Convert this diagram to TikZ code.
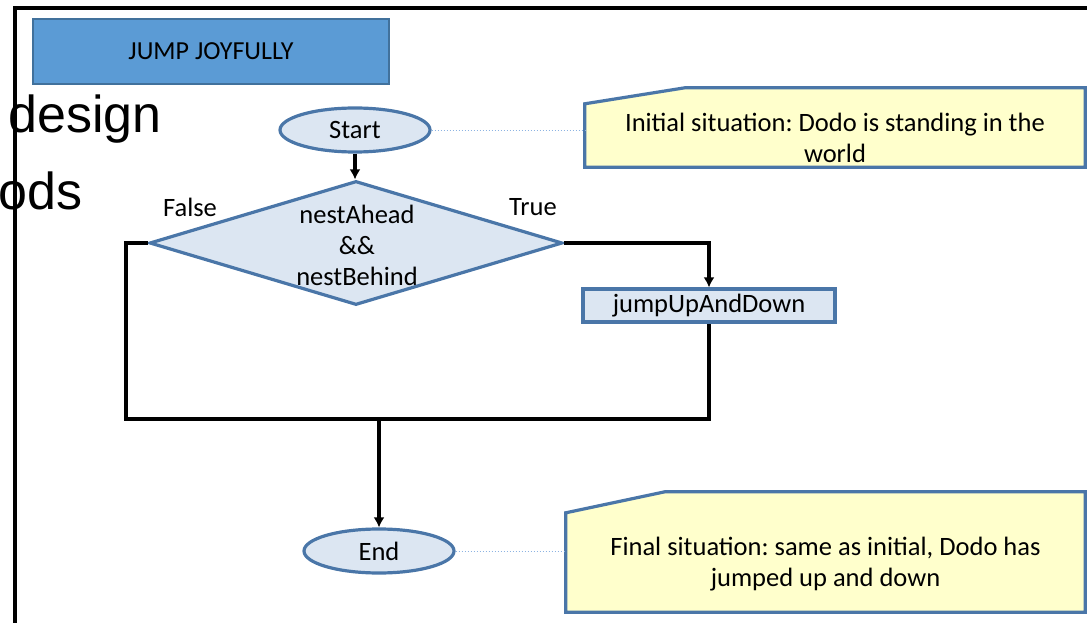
\documentclass[tikz,border=0pt]{standalone}
\usepackage{fontspec}
\setmainfont{Carlito}
\newfontfamily\arialf{Liberation Sans}
\usetikzlibrary{shapes.geometric,arrows.meta}
\frenchspacing
\definecolor{bord}{HTML}{4A76A8}
\definecolor{lightfill}{HTML}{DCE6F2}
\definecolor{titlefill}{HTML}{5B9BD5}
\definecolor{titlebord}{HTML}{41719C}
\definecolor{notefill}{HTML}{FFFFCC}
\definecolor{dotblue}{HTML}{8DB3E2}
\tikzset{
  x=1pt,y=1pt,
  txt/.style={font=\fontsize{26.5}{31}\selectfont, text=black},
  flowshape/.style={draw=bord, line width=3.2pt, fill=lightfill, inner sep=0pt},
  terminal/.style={flowshape, ellipse, minimum width=150pt, minimum height=44pt, txt},
  decision/.style={flowshape, diamond, minimum width=413pt, minimum height=124pt},
  process/.style={flowshape, rectangle, minimum width=252pt, minimum height=33pt, txt},
  notebox/.style={inner sep=0pt},
  noteshape/.style={draw=bord, line width=3.2pt, fill=notefill},
  flow/.style={draw=black, line width=3.2pt},
  flowarrow/.style={flow, -{Latex[length=10pt,width=11pt]}},
  dotline/.style={draw=dotblue, line width=0.9pt, dash pattern=on 1.5pt off 1.5pt},
  bigtxt/.style={font=\arialf\fontsize{52}{60}\selectfont, inner sep=0pt}
}
\begin{document}
\begin{tikzpicture}
\useasboundingbox (0,0) rectangle (1087,622);
\clip (0,0) rectangle (1087,622);
% frame
\draw[line width=3.2pt] (15,-20) -- (15,614) -- (1110,614);
% title
\node[draw=titlebord, line width=2.6pt, fill=titlefill, minimum width=356pt, minimum height=65pt, font=\fontsize{26}{30}\selectfont] (title) at (211,570.5) {JUMP JOYFULLY};
% background words
\node[bigtxt, anchor=base west] (design) at (8,489) {design};
\node[bigtxt, anchor=base east] (ods) at (83,412) {ods};
% flow nodes
\node[terminal] (start) at (355,492) {Start};
\node[decision] (dec) at (356,379) {};
\node[txt, align=center] (dectext) at (357,377) {nestAhead\\\&\&\\nestBehind};
\node[process] (jump) at (709,316.5) {jumpUpAndDown};
\node[terminal] (end) at (379,71) {End};
% labels
\node[txt] (false) at (190,415) {False};
\node[txt] (true) at (533,415) {True};
% notes
\node[notebox, minimum width=500pt, minimum height=63pt] (n1) at (835,486.5) {};
\path[noteshape] (n1.south west) -- (n1.north west) -- ([xshift=100pt,yshift=16pt]n1.north west) -- ([yshift=16pt]n1.north east) -- (n1.south east) -- cycle;
\node[txt, align=center] (n1text) at (835,484.5) {Initial situation: Dodo is standing in the\\world};
\node[notebox, minimum width=519pt, minimum height=99pt] (n2) at (825.5,59.5) {};
\path[noteshape] (n2.south west) -- (n2.north west) -- ([xshift=99pt,yshift=21pt]n2.north west) -- ([yshift=21pt]n2.north east) -- (n2.south east) -- cycle;
\node[txt, align=center] (n2text) at (825.5,57.5) {Final situation: same as initial, Dodo has\\jumped up and down};
% dotted connectors
\draw[dotline] (start.east) -- (start.east -| n1.west);
\draw[dotline] (end.east) -- (end.east -| n2.west);
% connectors
\coordinate (fl) at (126,203);
\coordinate (jr) at (jump.south |- fl);
\coordinate (mg) at (end.north |- fl);
\draw[flowarrow] (start.south) -- (start.south |- dec.north);
\draw[flowarrow] (dec.east) -| (jump.north);
\draw[flow] (dec.west) -| (fl) -- (jr) -- (jump.south);
\draw[flowarrow] (mg) -- (end.north);
\end{tikzpicture}
\end{document}
